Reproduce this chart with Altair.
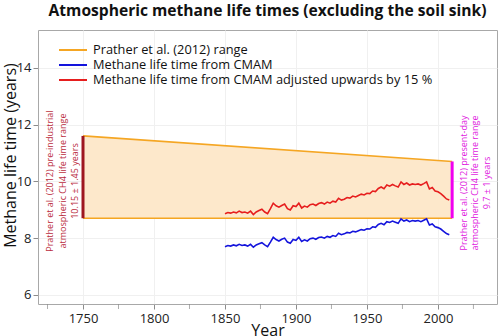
import altair as alt
import pandas as pd

# ---------------- data ----------------
series_names = [
    "Prather et al. (2012) range",
    "Methane life time from CMAM",
    "Methane life time from CMAM adjusted upwards by 15 %",
]
series_colors = ["#F5A623", "#1414DC", "#E61E1E"]

band_years = [1750, 2010]
band_top = [11.6, 10.7]
band_bottom = [8.7, 8.7]

cmam_years = list(range(1850, 2009, 2))
cmam = [7.70, 7.74, 7.72, 7.76, 7.73, 7.78, 7.74, 7.76, 7.72, 7.78,
        7.68, 7.76, 7.80, 7.84, 7.76, 7.70, 7.86, 8.03, 7.95, 7.90,
        7.96, 8.00, 7.86, 7.82, 7.95, 7.92, 8.03, 7.88, 7.94, 7.90,
        7.98, 8.00, 7.96, 8.02, 8.04, 8.00, 8.06, 8.03, 8.09, 8.06,
        8.17, 8.12, 8.15, 8.20, 8.18, 8.24, 8.22, 8.26, 8.30, 8.28,
        8.33, 8.32, 8.40, 8.38, 8.48, 8.52, 8.47, 8.58, 8.55, 8.60,
        8.56, 8.52, 8.68, 8.60, 8.64, 8.58, 8.62, 8.60, 8.62, 8.58,
        8.63, 8.68, 8.46, 8.50, 8.40, 8.37, 8.32, 8.24, 8.16, 8.12]
cmam_adj = [8.86, 8.90, 8.88, 8.92, 8.89, 8.95, 8.90, 8.92, 8.88, 8.95,
            8.83, 8.92, 8.97, 9.02, 8.92, 8.86, 9.04, 9.23, 9.14, 9.09,
            9.15, 9.20, 9.04, 8.99, 9.14, 9.11, 9.23, 9.06, 9.13, 9.09,
            9.18, 9.20, 9.15, 9.22, 9.25, 9.20, 9.27, 9.23, 9.30, 9.27,
            9.40, 9.34, 9.37, 9.43, 9.41, 9.48, 9.45, 9.50, 9.55, 9.52,
            9.58, 9.57, 9.66, 9.64, 9.75, 9.80, 9.74, 9.87, 9.83, 9.89,
            9.84, 9.80, 9.98, 9.89, 9.94, 9.87, 9.91, 9.89, 9.91, 9.87,
            9.92, 9.98, 9.73, 9.78, 9.66, 9.63, 9.57, 9.48, 9.38, 9.34]

x_ticks = [1750, 1800, 1850, 1900, 1950, 2000]
x_minor_ticks = [1725, 1775, 1825, 1875, 1925, 1975, 2025]
y_ticks = [6, 8, 10, 12, 14]

left_note = ["Prather et al. (2012) pre-industrial",
             "atmospheric CH4 life time range",
             "10.15 \u00b1 1.45 years"]
right_note = ["Prather et al. (2012) present-day",
              "atmospheric CH4 life time range",
              "9.7 \u00b1 1 years"]

FONT = "Open Sans"
PLOT_W, PLOT_H = 459, 274

# ---------------- tables ----------------
band_df = pd.DataFrame({"year": band_years, "top": band_top, "bottom": band_bottom})

rows = []
for yr, v in zip(band_years, band_top):
    rows.append({"series": series_names[0], "part": "top", "year": yr, "value": v})
for yr, v in zip(band_years, band_bottom):
    rows.append({"series": series_names[0], "part": "bottom", "year": yr, "value": v})
for yr, v in zip(cmam_years, cmam):
    rows.append({"series": series_names[1], "part": "cmam", "year": yr, "value": v})
for yr, v in zip(cmam_years, cmam_adj):
    rows.append({"series": series_names[2], "part": "adj", "year": yr, "value": v})
lines_df = pd.DataFrame(rows)

left_bar = band_df.iloc[[0]]
right_bar = band_df.iloc[[1]]
minor_df = pd.DataFrame({"year": x_minor_ticks})

x_scale = alt.Scale(domain=[1718.3, 2041.6], nice=False, zero=False)
y_scale = alt.Scale(domain=[5.68, 15.33], nice=False, zero=False)

x_axis = alt.Axis(
    values=x_ticks, title="Year", format="d",
    labelFlush=False,
    titleY=31, titleBaseline="alphabetic", titleFontSize=16,
    labelPadding=3,
)
y_axis = alt.Axis(
    values=y_ticks, title="Methane life time (years)",
    titleFontSize=16, titleAngle=270, titleX=-23, titleY=125,
    titleBaseline="alphabetic", titleAlign="center", labelPadding=2,
)

area = alt.Chart(band_df).mark_area(fill="#FDE8CB", opacity=1).encode(
    x=alt.X("year:Q", scale=x_scale, axis=x_axis),
    y=alt.Y("top:Q", scale=y_scale, axis=y_axis),
    y2="bottom:Q",
)

lines = alt.Chart(lines_df).mark_line(strokeWidth=1.6).encode(
    x=alt.X("year:Q", scale=x_scale, axis=x_axis),
    y=alt.Y("value:Q", scale=y_scale, axis=y_axis),
    color=alt.Color(
        "series:N",
        scale=alt.Scale(domain=series_names, range=series_colors),
        sort=series_names,
        legend=alt.Legend(
            title=None, orient="none", legendX=27, legendY=12,
            symbolType="M-2,0H2", symbolSize=196, symbolStrokeWidth=2,
            labelFontSize=12.8, labelFont=FONT, labelColor="#111111",
            labelOffset=12, rowPadding=0, padding=0, labelLimit=0,
        ),
    ),
    detail="part:N",
)

# minor (unlabelled) x ticks below the frame
minor = alt.Chart(minor_df).mark_tick(
    orient="vertical", size=5, thickness=1, color="#8C8C8C", clip=False,
).encode(
    x=alt.X("year:Q", scale=x_scale, axis=x_axis),
    y=alt.value(PLOT_H + 2.5),
)

lbar = alt.Chart(left_bar).mark_rule(color="#9E1620", strokeWidth=3).encode(
    x="year:Q", y="bottom:Q", y2="top:Q")
rbar = alt.Chart(right_bar).mark_rule(color="#F000F0", strokeWidth=3).encode(
    x="year:Q", y="bottom:Q", y2="top:Q")

note_df_left = pd.DataFrame({"year": [1726.8], "value": [10.01]})
note_df_right = pd.DataFrame({"year": [2018.1], "value": [9.94]})

lnote = alt.Chart(note_df_left).mark_text(
    text=left_note, angle=270, fontSize=9, lineHeight=12.5, font=FONT,
    color="#BA2C40", align="center", baseline="middle",
).encode(x="year:Q", y="value:Q")
rnote = alt.Chart(note_df_right).mark_text(
    text=right_note, angle=270, fontSize=9, lineHeight=11.5, font=FONT,
    color="#E020E0", align="center", baseline="middle",
).encode(x="year:Q", y="value:Q")

chart = alt.layer(area, lines, minor, lbar, rbar, lnote, rnote).properties(
    width=PLOT_W, height=PLOT_H,
    autosize=alt.AutoSizeParams(type="none"),
    padding={"left": 38, "top": 30, "right": 3, "bottom": 32},
    title=alt.TitleParams(
        "Atmospheric methane life times (excluding the soil sink)",
        font=FONT, fontSize=15.6, fontWeight="bold", color="#111111",
        anchor="middle", offset=10,
    ),
).configure_view(stroke="#A8A8A8", strokeWidth=1).configure_axis(
    labelFont=FONT, titleFont=FONT, labelFontSize=13, titleFontWeight="normal",
    labelColor="#222222", titleColor="#111111",
    domain=False, tickColor="#8C8C8C", tickSize=5,
    gridColor="#F0F0F0", gridWidth=1,
)

chart.save("out.html", embed_options={"renderer": "svg", "actions": False})
